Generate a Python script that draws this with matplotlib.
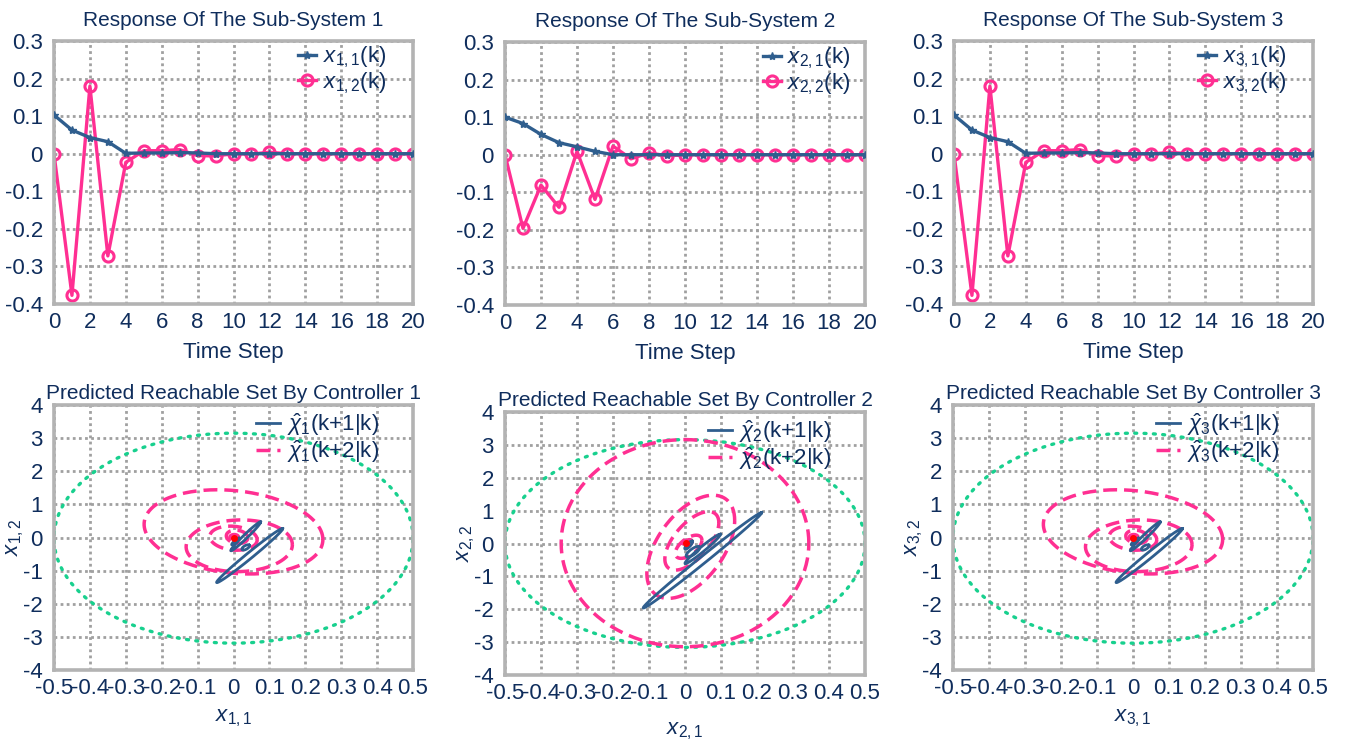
import numpy as np
import matplotlib
matplotlib.use('Agg')
import matplotlib.pyplot as plt

plt.rcParams['font.family'] = ['Liberation Sans', 'DejaVu Sans']
plt.rcParams['mathtext.fontset'] = 'custom'
plt.rcParams['mathtext.rm'] = 'Liberation Sans'
plt.rcParams['mathtext.it'] = 'Liberation Sans:italic'
plt.rcParams['axes.unicode_minus'] = False

NAVY = '#0f2d5c'
BLUE = '#2f5e8e'
PINK = '#ff2f92'
GREEN = '#18d08e'
GRID = '#a0a0a0'
FRAME = '#b3b3b3'

W, H = 1354, 740

# ---- responses of the sub-systems ----
steps = list(range(21))

x11 = [0.103, 0.063, 0.043, 0.032, 0.001, 0.002, 0.002, 0.003, 0.002, 0.0, 0.0,
       0.0, 0.0, 0.0, 0.0, 0.0, 0.0, 0.0, 0.0, 0.0, 0.0]
x12 = [0.0, -0.377, 0.18, -0.272, -0.023, 0.008, 0.008, 0.011, -0.005, -0.006, 0.0,
       -0.001, 0.004, 0.0, 0.0, 0.0, 0.0, 0.0, 0.0, 0.0, 0.0]

x21 = [0.1, 0.083, 0.054, 0.032, 0.021, 0.009, 0.0, 0.0, 0.0, 0.0, 0.0,
       0.0, 0.0, 0.0, 0.0, 0.0, 0.0, 0.0, 0.0, 0.0, 0.0]
x22 = [0.0, -0.196, -0.081, -0.14, 0.009, -0.119, 0.023, -0.011, 0.005, -0.003, 0.0,
       0.0, 0.0, 0.0, 0.0, 0.0, 0.0, 0.0, 0.0, 0.0, 0.0]

x31 = [0.103, 0.063, 0.043, 0.032, 0.001, 0.002, 0.002, 0.003, 0.002, 0.0, 0.0,
       0.0, 0.0, 0.0, 0.0, 0.0, 0.0, 0.0, 0.0, 0.0, 0.0]
x32 = [0.0, -0.377, 0.18, -0.272, -0.023, 0.008, 0.008, 0.011, -0.005, -0.006, 0.0,
       -0.001, 0.004, 0.0, 0.0, 0.0, 0.0, 0.0, 0.0, 0.0, 0.0]

resp_ticks_x = list(range(0, 21, 2))
resp_ticks_y = [-0.4, -0.3, -0.2, -0.1, 0, 0.1, 0.2, 0.3]

# ---- reachable sets, each ellipse: (cx, cy, ux, uy, vx, vy) ----
# point = c + u*cos(t) + v*sin(t)
bound_1 = (0.0, -0.02, 0.5, 0.0, 0.0, 3.17)
k1_sets_1 = [(0.045, -0.545, 0.092, 0.815, -0.0053, 0.07),
             (0.034, 0.035, 0.0415, 0.435, -0.0039, 0.0435),
             (0.034, -0.3, 0.01, 0.07, -0.004, 0.04),
             (0.005, -0.12, 0.01, 0.1, -0.002, 0.02)]
k2_sets_1 = [(0.0, 0.17, 0.249, -0.23, 0.0, 1.25),
             (0.016, -0.25, 0.148, 0.03, 0.0, 0.78),
             (0.0, -0.02, 0.066, -0.05, 0.0, 0.36),
             (0.01, 0.02, 0.03, -0.03, 0.0, 0.2),
             (0.002, 0.01, 0.012, 0.0, 0.0, 0.08)]
origin_1 = (0.0, 0.0)

bound_2 = (0.0, 0.0, 0.5, 0.0, 0.0, 3.16)
k1_sets_2 = [(0.0485, -0.51, 0.1645, 1.45, -0.0062, 0.08),
             (0.049, -0.165, 0.049, 0.445, -0.0046, 0.056),
             (0.022, -0.25, 0.018, 0.15, -0.006, 0.06),
             (0.01, -0.05, 0.01, 0.12, -0.004, 0.03)]
k2_sets_2 = [(0.0, 0.01, 0.344, 0.0, 0.0, 3.15),
             (0.016, -0.1, 0.122, 0.8, 0.0, 1.35),
             (0.019, 0.08, 0.075, 0.55, 0.0, 0.7),
             (0.01, -0.1, 0.037, 0.2, 0.0, 0.29),
             (0.005, 0.0, 0.015, 0.06, 0.0, 0.1)]
origin_2 = (0.002, 0.02)

bound_3 = (0.0, -0.02, 0.5, 0.0, 0.0, 3.17)
k1_sets_3 = [(0.045, -0.545, 0.092, 0.815, -0.0053, 0.07),
             (0.034, 0.035, 0.0415, 0.435, -0.0039, 0.0435),
             (0.034, -0.3, 0.01, 0.07, -0.004, 0.04),
             (0.005, -0.12, 0.01, 0.1, -0.002, 0.02)]
k2_sets_3 = [(0.0, 0.17, 0.249, -0.23, 0.0, 1.25),
             (0.016, -0.25, 0.148, 0.03, 0.0, 0.78),
             (0.0, -0.02, 0.066, -0.05, 0.0, 0.36),
             (0.01, 0.02, 0.03, -0.03, 0.0, 0.2),
             (0.002, 0.01, 0.012, 0.0, 0.0, 0.08)]
origin_3 = (0.0, 0.0)

set_ticks_x = [-0.5, -0.4, -0.3, -0.2, -0.1, 0, 0.1, 0.2, 0.3, 0.4, 0.5]
set_ticks_y = [-4, -3, -2, -1, 0, 1, 2, 3, 4]


def px_axes(fig, l, t, r, b):
    return fig.add_axes([l / W, 1 - b / H, (r - l) / W, (b - t) / H])


def style(ax):
    for s in ax.spines.values():
        s.set_color(FRAME)
        s.set_linewidth(2.6)
    ax.grid(True, color=GRID, linestyle=(0, (1, 1.2)), linewidth=2.0)
    ax.set_axisbelow(True)
    ax.tick_params(length=0, labelsize=16, colors=NAVY)
    ax.tick_params(axis='y', pad=8)
    ax.tick_params(axis='x', pad=6)


def ellipse_xy(e):
    cx, cy, ux, uy, vx, vy = e
    t = np.linspace(0, 2 * np.pi, 241)
    return cx + ux * np.cos(t) + vx * np.sin(t), cy + uy * np.cos(t) + vy * np.sin(t)


def response(ax, i, a, b, anchor):
    ax.plot(steps, b, color=PINK, lw=2.4, marker='o', ms=8, mfc='none', mew=2.2,
            label=r'$x_{%d,2}$(k)' % i, zorder=2)
    ax.plot(steps, a, color=BLUE, lw=2.4, marker='*', ms=6,
            label=r'$x_{%d,1}$(k)' % i, zorder=3)
    style(ax)
    ax.set_xlim(0, 20)
    ax.set_ylim(-0.4, 0.3)
    ax.set_xticks(resp_ticks_x)
    ax.set_yticks(resp_ticks_y)
    ax.set_yticklabels(['%g' % v for v in resp_ticks_y])
    ax.set_title('Response Of The Sub-System %d' % i, fontsize=15, color=NAVY, pad=11)
    ax.set_xlabel('Time Step', fontsize=16, color=NAVY, labelpad=6)
    h, l = ax.get_legend_handles_labels()
    ax.legend(h[::-1], l[::-1], loc='upper right', frameon=False, fontsize=16,
              labelcolor=NAVY, handlelength=0.8, handletextpad=0.3,
              labelspacing=0.0, borderaxespad=0.0, bbox_to_anchor=anchor)


def reach(ax, i, bound, k1_sets, k2_sets, origin, xpad):
    gx, gy = ellipse_xy(bound)
    ax.plot(gx, gy, color=GREEN, lw=2.4, linestyle=(0, (0.6, 2.2)),
            dash_capstyle='round')
    for n, e in enumerate(k2_sets):
        ex, ey = ellipse_xy(e)
        ax.plot(ex, ey, color=PINK, lw=2.5, linestyle=(0, (4, 2)),
                label=r'$\hat{\chi}_%d$(k+2|k)' % i if n == 0 else None)
    for n, e in enumerate(k1_sets):
        ex, ey = ellipse_xy(e)
        ax.plot(ex, ey, color=BLUE, lw=2.0,
                label=r'$\hat{\chi}_%d$(k+1|k)' % i if n == 0 else None)
    ax.plot([origin[0]], [origin[1]], 'o', color='#ff0000', ms=4)
    style(ax)
    ax.set_xlim(-0.5, 0.5)
    ax.set_ylim(-4, 4)
    ax.set_xticks(set_ticks_x)
    ax.set_xticklabels(['%g' % v for v in set_ticks_x])
    ax.set_yticks(set_ticks_y)
    ax.set_title('Predicted Reachable Set By Controller %d' % i, fontsize=15,
                 color=NAVY, pad=4)
    ax.set_xlabel(r'$x_{%d,1}$' % i, fontsize=16, color=NAVY, labelpad=xpad)
    ax.set_ylabel(r'$x_{%d,2}$' % i, fontsize=16, color=NAVY, labelpad=-2)
    h, l = ax.get_legend_handles_labels()
    ax.legend(h[::-1], l[::-1], loc='upper right', frameon=False, fontsize=16,
              labelcolor=NAVY, handlelength=1.1, handletextpad=0.3,
              labelspacing=0.0, borderaxespad=0.0, bbox_to_anchor=(0.93, 1.01))


def draw():
    fig = plt.figure(figsize=(W / 100, H / 100), dpi=100)

    response(px_axes(fig, 54, 41, 413, 304), 1, x11, x12, (0.95, 1.02))
    response(px_axes(fig, 505, 42, 865, 305), 2, x21, x22, (0.985, 1.02))
    response(px_axes(fig, 954, 41, 1313, 304), 3, x31, x32, (0.95, 1.02))

    reach(px_axes(fig, 54, 405, 413, 670), 1, bound_1, k1_sets_1, k2_sets_1, origin_1, 6)
    reach(px_axes(fig, 505, 412, 865, 675), 2, bound_2, k1_sets_2, k2_sets_2, origin_2, 12)
    reach(px_axes(fig, 953, 405, 1313, 670), 3, bound_3, k1_sets_3, k2_sets_3, origin_3, 6)

    fig.savefig('out.png', dpi=100)


if __name__ == '__main__':
    draw()
